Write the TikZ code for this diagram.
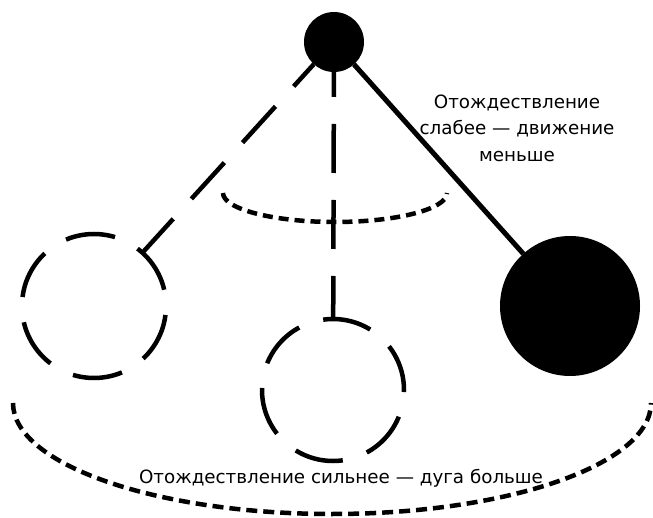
\documentclass[tikz,border=0pt]{standalone}
\usepackage{fontspec}
\setmainfont{DejaVu Sans}
\begin{document}
\begin{tikzpicture}[x=1pt,y=1pt,
  bob/.style={circle, fill=black, inner sep=0pt, outer sep=0pt},
  ghost/.style={circle, draw=black, line width=4.5pt, inner sep=0pt, outer sep=0pt},
  longdash/.style={line width=4.5pt, dash pattern=on 49pt off 27pt},
  shortdash/.style={line width=4.5pt, dash pattern=on 11pt off 6pt},
  rod/.style={line width=5pt},
  lbl/.style={font=\fontsize{18.3}{26.5}\selectfont, inner sep=0pt, align=center}]
\useasboundingbox (0,0) rectangle (653,517);
% arcs
\draw[shortdash] (13,114) arc[start angle=180, end angle=360, x radius=319, y radius=111];
\draw[shortdash, dash pattern=on 10pt off 6pt] (223,324) arc[start angle=180, end angle=360, x radius=112, y radius=29];
% bodies
\node[bob, minimum size=60pt] (piv) at (334,475) {};
\node[bob, minimum size=140pt] (bobr) at (570,211) {};
\node[ghost, minimum size=144pt, dash pattern=on 50pt off 25.4pt, dash phase=59pt] (bobl) at (94,211) {};
\node[ghost, minimum size=142pt, dash pattern=on 49pt off 25.35pt, dash phase=2pt] (bobm) at (333,127) {};
% rods
\draw[rod] (piv) -- (bobr);
\draw[longdash, dash phase=19pt] (piv) -- (bobl);
\draw[longdash, dash phase=24pt] (piv) -- (bobm);
% labels
\node[lbl] (t1) at (517,389) {Отождествление\\слабее — движение\\меньше};
\node[lbl, anchor=base] (t2) at (341,34) {Отождествление сильнее — дуга больше};
\end{tikzpicture}
\end{document}
